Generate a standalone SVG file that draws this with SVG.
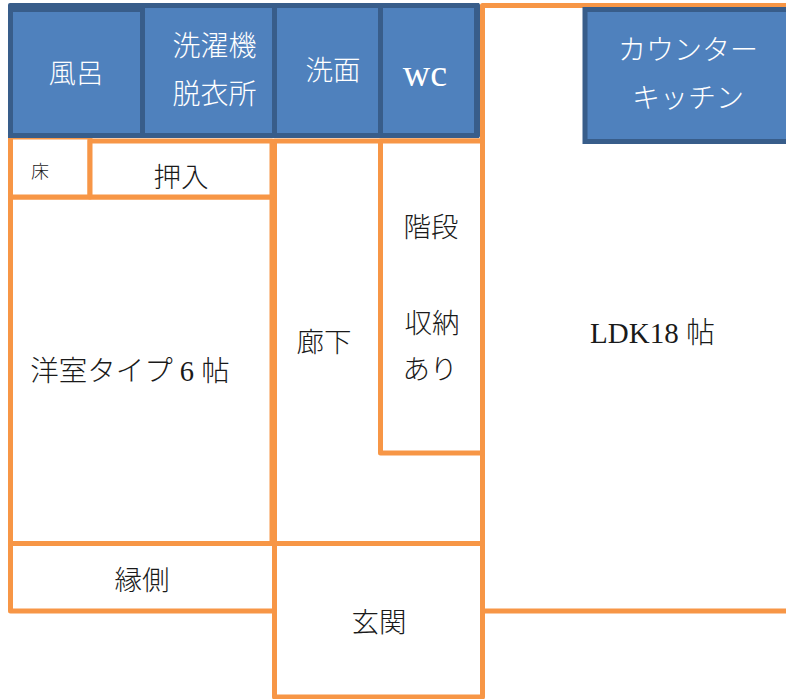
<svg xmlns="http://www.w3.org/2000/svg" width="786" height="699" viewBox="0 0 786 699">
<style>
.o{fill:#fff;stroke:#F79646;stroke-width:5;stroke-linejoin:round}
.b{fill:#4F81BD;stroke:#385D8A;stroke-width:5}
text{font-family:"Liberation Serif","Noto Sans CJK JP",serif;font-size:27.500px;font-weight:300;fill:#1a1a1a;text-anchor:middle}
.w{fill:#fff}
</style>
<rect width="786" height="699" fill="#fff"/>
<g id="ldk"><rect class="o" x="482.500" y="5.500" width="330" height="605.500"/><text x="652.500" y="343" style="font-size:29px">LDK18 帖</text></g>
<g id="engawa"><rect class="o" x="10.500" y="543.500" width="264" height="67.500"/><text x="142" y="590">縁側</text></g>
<g id="genkan"><rect class="o" x="274.500" y="543.500" width="208" height="153.500"/><text x="379" y="632">玄関</text></g>
<g id="rouka"><rect class="o" x="274.500" y="141" width="208" height="402.500"/><text x="324" y="352">廊下</text></g>
<g id="kaidan"><rect class="o" x="380.500" y="141" width="102" height="312"/><text x="431" y="237">階段</text><text x="432" y="333">収納</text><text x="430" y="379">あり</text></g>
<g id="yoshitsu"><rect class="o" x="10.500" y="197" width="261.500" height="346.500"/><text x="130" y="381" style="font-size:28.500px">洋室タイプ 6 帖</text></g>
<g id="toko"><rect class="o" x="10.500" y="137" width="79.500" height="60"/><text x="40" y="178" style="font-size:18px">床</text></g>
<g id="oshiire"><rect class="o" x="90" y="141" width="182" height="56"/><text x="181" y="187">押入</text></g>
<g id="kitchen"><rect class="b" x="585" y="9.500" width="230" height="132"/><text class="w" x="688" y="60" style="font-size:28px">カウンター</text><text class="w" x="688" y="108" style="font-size:28px">キッチン</text></g>
<g id="wet-block"><rect x="8" y="3" width="472" height="135" rx="2" fill="#385D8A"/></g>
<g id="furo"><rect class="b" x="10.500" y="9.500" width="132" height="126"/><text class="w" x="76" y="83">風呂</text></g>
<g id="sentaku"><rect class="b" x="142.500" y="5.500" width="132" height="130"/><text class="w" x="214.500" y="56" style="font-size:28px">洗濯機</text><text class="w" x="214.500" y="104" style="font-size:28px">脱衣所</text></g>
<g id="senmen"><rect class="b" x="274.500" y="5.500" width="106" height="130"/><text class="w" x="333" y="80">洗面</text></g>
<g id="wc"><rect class="b" x="380.500" y="5.500" width="96" height="130"/><text class="w" x="425" y="86" style="font-size:38px;font-weight:400">wc</text></g>
</svg>
